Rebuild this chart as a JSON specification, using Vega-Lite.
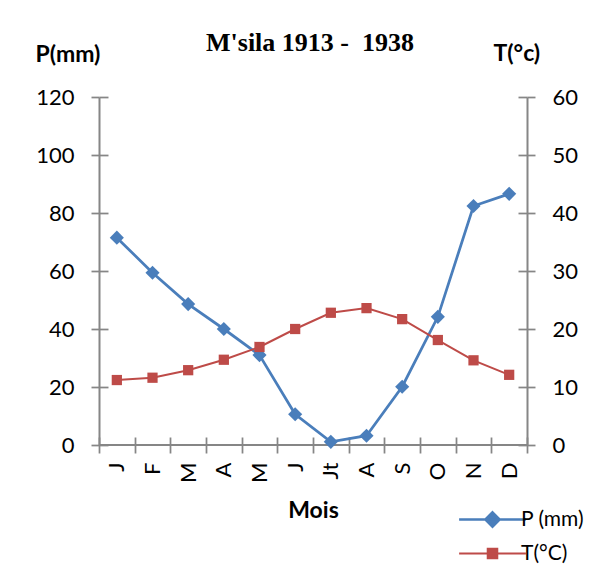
{
  "$schema": "https://vega.github.io/schema/vega-lite/v6.json",
  "width": 428,
  "height": 348,
  "autosize": {"type": "none"},
  "padding": {"left": 99, "top": 97, "right": 79, "bottom": 124},
  "background": "white",
  "title": {
    "text": "M'sila 1913 -\u00a0 1938",
    "font": "Liberation Serif",
    "fontSize": 26,
    "fontWeight": "bold",
    "color": "#000000",
    "anchor": "middle",
    "dx": -3,
    "offset": -14
  },
  "data": {
    "values": [
      {"mois": "Janvier", "P": 71.5, "T": 11.2},
      {"mois": "Février", "P": 59.4, "T": 11.6},
      {"mois": "Mars", "P": 48.6, "T": 12.9},
      {"mois": "Avril", "P": 40.0, "T": 14.7},
      {"mois": "Mai", "P": 31.0, "T": 16.9},
      {"mois": "Juin", "P": 10.6, "T": 20.0},
      {"mois": "Juillet", "P": 1.1, "T": 22.8},
      {"mois": "Août", "P": 3.2, "T": 23.6},
      {"mois": "Septembre", "P": 20.1, "T": 21.7},
      {"mois": "Octobre", "P": 44.2, "T": 18.1},
      {"mois": "Novembre", "P": 82.4, "T": 14.6},
      {"mois": "Décembre", "P": 86.6, "T": 12.1}
    ]
  },
  "layer": [
    {
      "mark": {"type": "rule", "color": "#868686", "strokeWidth": 2},
      "encoding": {
        "y": {
          "datum": 0,
          "type": "quantitative",
          "scale": {"domain": [0, 120]},
          "axis": {
            "orient": "left",
            "values": [0, 20, 40, 60, 80, 100, 120],
            "domain": false,
            "labels": false,
            "tickSize": -9,
            "title": null
          }
        }
      }
    },
    {
      "encoding": {
        "x": {
          "field": "mois",
          "type": "nominal",
          "sort": null,
          "bandPosition": 0.5,
          "scale": {"type": "band", "paddingInner": 0, "paddingOuter": 0},
          "axis": {
            "orient": "bottom",
            "tickBand": "extent",
            "domain": false,
            "tickSize": 16,
            "offset": -8,
            "labelAngle": -90,
            "labelPadding": 9,
            "labelExpr": "isString(datum.value) ? (datum.value === 'Juillet' ? 'Jt' : substring(datum.value, 0, 1)) : ''",
            "title": "Mois",
            "titleFont": "Lato",
            "titleFontSize": 23,
            "titleFontWeight": "bold",
            "titleX": 214,
            "titleY": 73,
            "titleBaseline": "middle",
            "titleAlign": "center"
          }
        },
        "y": {
          "field": "P",
          "type": "quantitative",
          "scale": {"domain": [0, 120]},
          "axis": {
            "orient": "left",
            "values": [0, 20, 40, 60, 80, 100, 120],
            "tickSize": 8,
            "labelPadding": 17,
            "title": "P(mm)",
            "titleAngle": 0,
            "titleFont": "Lato",
            "titleFontSize": 23,
            "titleFontWeight": "bold",
            "titleAlign": "left",
            "titleBaseline": "middle",
            "titleX": -64,
            "titleY": -43
          }
        },
        "color": {
          "datum": "P (mm)",
          "type": "nominal",
          "scale": {"domain": ["P (mm)", "T(°C)"], "range": ["#4A7EBB", "#BE4B48"]},
          "legend": {
            "orient": "none",
            "legendX": 383,
            "legendY": 412,
            "title": null,
            "padding": 0,
            "symbolSize": 2809,
            "rowPadding": 10,
            "labelOffset": 18,
            "labelFont": "Lato",
            "labelFontSize": 21,
            "labelColor": "#000000",
            "encode": {
              "symbols": {
                "update": {
                  "shape": {"signal": "datum.value === 'P (mm)' ? 'M-1.26,0H1.26M0,-0.27L0.27,0L0,0.27L-0.27,0Z' : 'M-1.26,0H1.26M-0.18,-0.18H0.18V0.18H-0.18Z'"},
                  "fill": {"signal": "datum.value === 'P (mm)' ? '#4A7EBB' : '#BE4B48'"},
                  "stroke": {"signal": "datum.value === 'P (mm)' ? '#4A7EBB' : '#BE4B48'"},
                  "strokeWidth": {"signal": "datum.value === 'P (mm)' ? 2.5 : 2"},
                  "opacity": {"value": 1}
                }
              }
            }
          }
        }
      },
      "layer": [
        {"mark": {"type": "line", "strokeWidth": 2.75}},
        {"mark": {"type": "point", "shape": "diamond", "filled": true, "size": 200, "opacity": 1}}
      ]
    },
    {
      "encoding": {
        "x": {
          "field": "mois",
          "type": "nominal",
          "sort": null,
          "bandPosition": 0.5,
          "scale": {"type": "band", "paddingInner": 0, "paddingOuter": 0}
        },
        "y": {
          "field": "T",
          "type": "quantitative",
          "scale": {"domain": [0, 60]},
          "axis": {
            "orient": "right",
            "values": [0, 10, 20, 30, 40, 50, 60],
            "tickSize": 8,
            "labelPadding": 17,
            "title": "T(°c)",
            "titleAngle": 0,
            "titleFont": "Lato",
            "titleFontSize": 23,
            "titleFontWeight": "bold",
            "titleAlign": "left",
            "titleBaseline": "middle",
            "titleX": -34,
            "titleY": -44
          }
        },
        "color": {"datum": "T(°C)", "type": "nominal"}
      },
      "layer": [
        {"mark": {"type": "line", "strokeWidth": 2}},
        {"mark": {"type": "point", "shape": "square", "filled": true, "size": 105, "opacity": 1}}
      ]
    },
    {
      "mark": {"type": "point", "opacity": 0},
      "encoding": {
        "x": {
          "field": "mois",
          "type": "nominal",
          "sort": null,
          "bandPosition": 0.5,
          "scale": {"type": "band", "paddingInner": 0, "paddingOuter": 0}
        },
        "y": {
          "field": "T",
          "type": "quantitative",
          "scale": {"domain": [0, 60]},
          "axis": {
            "orient": "right",
            "values": [0, 10, 20, 30, 40, 50, 60],
            "domain": false,
            "labels": false,
            "tickSize": -9,
            "title": null
          }
        }
      }
    }
  ],
  "resolve": {"scale": {"y": "independent"}},
  "config": {
    "view": {"stroke": null},
    "font": "Lato",
    "axis": {
      "grid": false,
      "labelFont": "Lato",
      "labelFontSize": 22,
      "labelColor": "#000000",
      "titleColor": "#000000",
      "domainColor": "#868686",
      "domainWidth": 2,
      "tickColor": "#868686",
      "tickWidth": 1.75
    }
  }
}
